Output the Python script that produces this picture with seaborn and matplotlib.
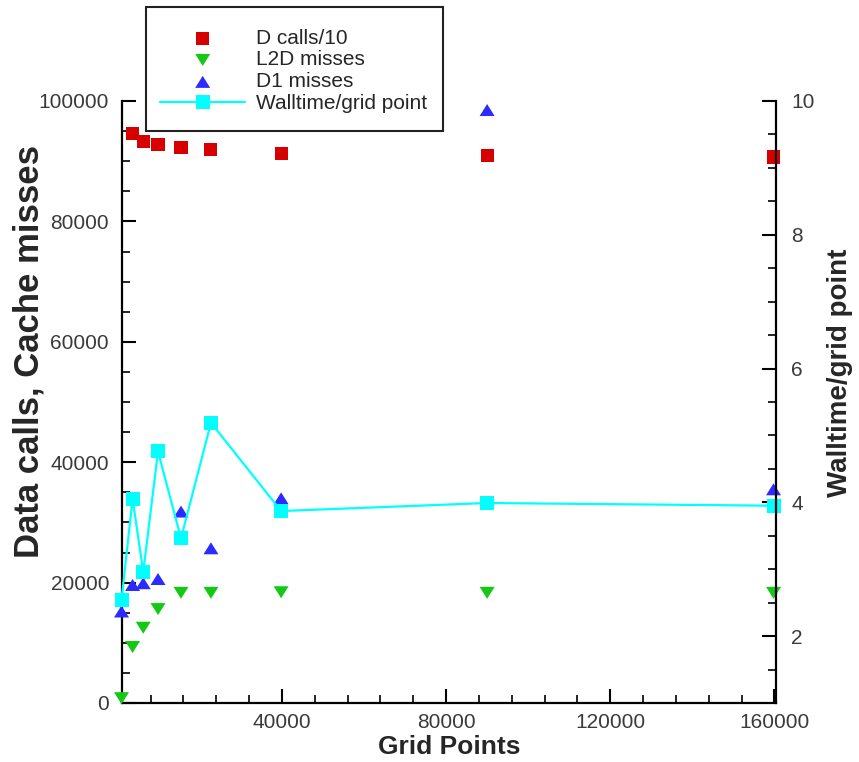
import numpy as np
import pandas as pd
import matplotlib
matplotlib.use("Agg")
import matplotlib.pyplot as plt
from matplotlib.ticker import FixedLocator, MultipleLocator
from matplotlib.path import Path
from matplotlib.patches import Rectangle
import seaborn as sns

# Measurements per grid size
grid_points = [900, 3600, 6200, 9800, 15400, 22700, 39800, 90000, 159800]
d_calls_over_10 = [np.nan, 94600, 93200, 92800, 92200, 91900, 91300, 90900, 90700]
l2d_misses = [800, 9300, 12500, 15600, 18300, 18300, 18400, 18300, 18300]
d1_misses = [15200, 19600, 19900, 20600, 31800, 25700, 34000, 98500, 35500]
walltime_per_point = [2.54, 4.05, 2.96, 4.76, 3.46, 5.19, 3.87, 3.99, 3.95]

series_labels = ["D calls/10", "L2D misses", "D1 misses", "Walltime/grid point"]

x_ticks = [40000, 80000, 120000, 160000]
x_tick_labels = ["40000", "80000", "120000", "160000"]
left_ticks = [0, 20000, 40000, 60000, 80000, 100000]
left_tick_labels = ["0", "20000", "40000", "60000", "80000", "100000"]
right_ticks = [2, 4, 6, 8, 10]
right_tick_labels = ["2", "4", "6", "8", "10"]

RED = "#d60000"
GREEN = "#14c814"
BLUE = "#2b2bff"
CYAN = "#00ffff"
TICK_TEXT = "#3a3a3a"

sns.set_style("white")
plt.rcParams["font.family"] = ["Liberation Sans", "DejaVu Sans"]

df = pd.DataFrame({
    "grid": grid_points,
    "dcalls": d_calls_over_10,
    "l2d": l2d_misses,
    "d1": d1_misses,
    "wall": walltime_per_point,
})

W, H = 859, 762
fig = plt.figure(figsize=(W / 100, H / 100), dpi=100)
ax = fig.add_axes([121.5 / W, 1 - 703 / H, (776 - 121.5) / W, (703 - 101) / H])
ax2 = ax.twinx()

# flattened triangles (wider than tall)
tri_up = Path([(0, 0.8), (-1, -0.8), (1, -0.8), (0, 0.8)],
              [Path.MOVETO, Path.LINETO, Path.LINETO, Path.CLOSEPOLY])
tri_down = Path([(0, -0.8), (-1, 0.8), (1, 0.8), (0, -0.8)],
                [Path.MOVETO, Path.LINETO, Path.LINETO, Path.CLOSEPOLY])

sns.scatterplot(data=df, x="grid", y="dcalls", marker="s", s=9.4 ** 2,
                color=RED, edgecolor="none", linewidth=0, ax=ax,
                label=series_labels[0], zorder=3, clip_on=False)
sns.scatterplot(data=df, x="grid", y="l2d", marker=tri_down, s=10.8 ** 2,
                color=GREEN, edgecolor="none", linewidth=0, ax=ax,
                label=series_labels[1], zorder=3, clip_on=False)
sns.scatterplot(data=df, x="grid", y="d1", marker=tri_up, s=10.8 ** 2,
                color=BLUE, edgecolor="none", linewidth=0, ax=ax,
                label=series_labels[2], zorder=3, clip_on=False)
sns.lineplot(data=df, x="grid", y="wall", ax=ax2, color=CYAN, linewidth=1.6,
             marker="s", markersize=9.4, markeredgewidth=0,
             markerfacecolor=CYAN, errorbar=None, sort=False,
             label=series_labels[3], clip_on=False)

for a in (ax, ax2):
    if a.get_legend() is not None:
        a.get_legend().remove()

# axis ranges and ticks
ax.set_xlim(900, 160400)
ax.set_ylim(0, 100000)
ax2.set_ylim(1, 10)

ax.xaxis.set_major_locator(FixedLocator(x_ticks))
ax.set_xticklabels(x_tick_labels)
ax.xaxis.set_minor_locator(MultipleLocator(8000))
ax.yaxis.set_major_locator(FixedLocator(left_ticks))
ax.set_yticklabels(left_tick_labels)
ax.yaxis.set_minor_locator(MultipleLocator(5000))
ax2.yaxis.set_major_locator(FixedLocator(right_ticks))
ax2.set_yticklabels(right_tick_labels)
ax2.yaxis.set_minor_locator(MultipleLocator(0.5))

for a in (ax, ax2):
    a.tick_params(which="major", direction="in", length=10, width=1.5,
                  color="black", labelsize=15, labelcolor=TICK_TEXT)
    a.tick_params(which="minor", direction="in", length=6, width=1.2,
                  color="black")
    a.set_facecolor("none")
ax.tick_params(axis="y", which="major", pad=9)
ax.tick_params(axis="x", which="major", pad=7)
ax2.tick_params(axis="y", which="major", pad=11)
ax.tick_params(axis="y", which="both", left=True, right=False)
ax.tick_params(axis="x", which="both", bottom=True, top=False)
ax2.tick_params(axis="y", which="both", left=False, right=True)

for name in ("top", "right"):
    ax.spines[name].set_visible(False)
for name in ("top", "left", "bottom"):
    ax2.spines[name].set_visible(False)
for sp in (ax.spines["left"], ax.spines["bottom"], ax2.spines["right"]):
    sp.set_linewidth(1.6)
    sp.set_color("black")

ax.grid(False)
ax2.grid(False)

# axis titles
ax.set_xlabel("Grid Points", fontsize=19, fontweight="bold")
ax.xaxis.set_label_coords(0.5, -0.053)
ax.set_ylabel("Data calls, Cache misses", fontsize=25, fontweight="bold",
              va="center")
ax.yaxis.set_label_coords((29 - 121.5) / (776 - 121.5), (703 - 352) / 602)
ax2.set_ylabel("Walltime/grid point", fontsize=20, fontweight="bold",
               va="center", rotation=90)
ax2.yaxis.set_label_coords((840 - 121.5) / (776 - 121.5), (703 - 373) / 602)

# legend box
fig.add_artist(Rectangle((146 / W, 1 - 131 / H), 297 / W, 124 / H,
                         transform=fig.transFigure, facecolor="white",
                         edgecolor="#222222", linewidth=1.5, zorder=3))
h1, l1 = ax.get_legend_handles_labels()
h2, l2 = ax2.get_legend_handles_labels()
leg = fig.legend(h1 + h2, l1 + l2, loc="upper left",
                 bbox_to_anchor=(160 / W, 1 - 28.5 / H), frameon=False,
                 borderpad=0, borderaxespad=0, handlelength=4.1,
                 handletextpad=0.5, labelspacing=0.14, fontsize=15,
                 scatterpoints=1, numpoints=1)
leg.set_zorder(5)

fig.savefig("out.png", dpi=100)
